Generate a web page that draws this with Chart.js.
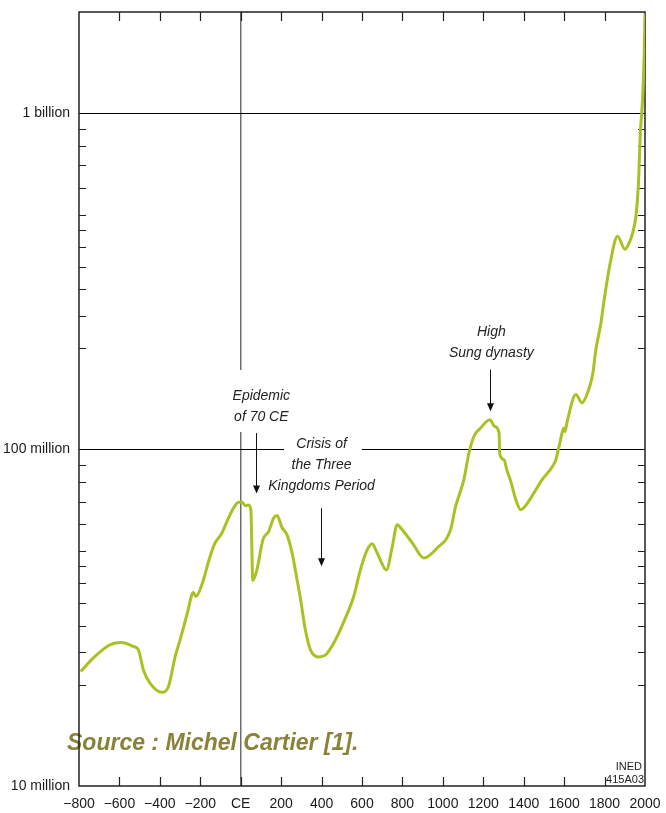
<!DOCTYPE html>
<html>
<head>
<meta charset="utf-8">
<script src="https://cdn.jsdelivr.net/npm/chart.js@4/dist/chart.umd.min.js"></script>
<style>
  html, body { margin: 0; padding: 0; background: #fff; }
  canvas { display: block; }
</style>
</head>
<body>
<canvas id="popChart" width="666" height="813"></canvas>
<script>
// population of China (years, millions)
var years = [-792, -730, -646, -588, -531, -506, -481, -448, -390, -357, -324, -300, -258, -245, -234, -222,
  -192, -159, -131, -93, -68, -35, -10, 7, 23, 39, 50, 60, 80, 110, 138, 163, 180, 204, 229, 254, 279, 295,
  320, 345, 384, 419, 469, 518, 559, 592, 626, 650, 675, 721, 750, 774, 799, 849, 906, 972, 1038, 1063,
  1084, 1104, 1129, 1154, 1187, 1232, 1256, 1278, 1281, 1303, 1316, 1336, 1361, 1385, 1419, 1460, 1485,
  1543, 1559, 1575, 1600, 1604, 1617, 1658, 1688, 1716, 1741, 1757, 1782, 1798, 1828, 1864, 1901, 1922,
  1939, 1955, 1967, 1977, 1988, 1996, 2000];
var populationMillions = [21.9, 24.0, 26.3, 26.7, 26.0, 25.4, 22.1, 20.2, 19.0, 19.8, 24.3, 27.2, 33.8, 36.6, 37.6, 36.6,
  39.7, 46.5, 52.2, 56.5, 61.2, 67.1, 69.7, 69.7, 68.1, 68.5, 66.3, 40.8, 43.9, 54.0, 57.1, 62.6, 63.7, 58.7, 55.8, 49.3, 41.0, 36.2,
  29.1, 25.4, 24.2, 24.5, 27.2, 31.6, 36.6, 43.9, 50.4, 52.5, 49.3, 43.9, 51.6, 59.8, 57.8, 52.8, 47.6, 51.0, 57.8, 67.8,
  74.3, 81.4, 97.7, 109.6, 116, 122.8, 117.3, 112.1, 97.3, 93.3, 87.2, 80.5, 71, 66.3, 69.4, 76, 80.5,
  89.2, 93.3, 102.3, 116, 113, 122.8, 145.8, 137.7, 147.5, 167.2, 198.4, 238, 279, 359, 431, 394, 412,
  441, 494, 607, 875, 1100, 1500, 1980];

var yLabelValues = [1e7, 1e8, 1e9];
var yLabelTexts = ['10 million', '100 million', '1 billion'];
var yMinorMultipliers = [2, 2.5, 3, 3.5, 4, 4.5, 5, 6, 7, 8, 9];

// annotations: first text line centre (year, value in millions) and arrows (year, from, to in millions)
var notes = [
  { year: 102, value: 144, lines: ['Epidemic', 'of 70 CE'] },
  { year: 400, value: 104, lines: ['Crisis of', 'the Three', 'Kingdoms Period'] },
  { year: 1240, value: 223, lines: ['High', 'Sung dynasty'] }
];
var arrows = [
  { year: 75, from: 112, to: 74 },
  { year: 399, from: 67, to: 45 },
  { year: 1233, from: 173, to: 130 }
];

var points = years.map(function (y, i) { return { x: y, y: populationMillions[i] * 1e6 }; });

var LINE = '#a8c224';
var AXIS = '#222';

var decorPlugin = {
  id: 'decor',
  beforeDatasetsDraw: function (chart) {
    var ctx = chart.ctx, a = chart.chartArea;
    var xs = chart.scales.x, ys = chart.scales.y;
    ctx.save();

    // source line
    ctx.fillStyle = '#8a8238';
    ctx.font = 'italic bold 23px "Liberation Sans", Arial, sans-serif';
    ctx.textAlign = 'left';
    ctx.textBaseline = 'middle';
    ctx.fillText('Source : Michel Cartier [1].', 67, 744);

    // frame
    ctx.strokeStyle = AXIS;
    ctx.lineWidth = 1.5;
    ctx.strokeRect(a.left, a.top, a.right - a.left, a.bottom - a.top);

    // inward minor ticks on the y sides
    ctx.lineWidth = 1.2;
    [1e7, 1e8].forEach(function (dec) {
      yMinorMultipliers.forEach(function (m) {
        var py = Math.round(ys.getPixelForValue(dec * m)) + 0.5;
        ctx.beginPath();
        ctx.moveTo(a.left, py); ctx.lineTo(a.left + 7, py);
        ctx.moveTo(a.right, py); ctx.lineTo(a.right - 7, py);
        ctx.stroke();
      });
    });
    // inward ticks on top and bottom
    for (var yr = -600; yr <= 1800; yr += 200) {
      var px = Math.round(xs.getPixelForValue(yr)) + 0.5;
      ctx.beginPath();
      ctx.moveTo(px, a.top); ctx.lineTo(px, a.top + 9);
      ctx.moveTo(px, a.bottom); ctx.lineTo(px, a.bottom - 9);
      ctx.stroke();
    }

    // white boxes that cut the lines behind the notes
    ctx.fillStyle = '#fff';
    ctx.fillRect(226, 370, 70, 62);
    ctx.fillRect(284, 434, 78, 22);

    // note texts
    ctx.fillStyle = '#222';
    ctx.font = 'italic 14px "Liberation Sans", Arial, sans-serif';
    ctx.textAlign = 'center';
    notes.forEach(function (n) {
      var cx = xs.getPixelForValue(n.year);
      var cy = ys.getPixelForValue(n.value * 1e6);
      n.lines.forEach(function (t, i) { ctx.fillText(t, cx, cy + i * 21); });
    });

    // arrows
    ctx.strokeStyle = '#111';
    ctx.fillStyle = '#111';
    ctx.lineWidth = 1;
    arrows.forEach(function (ar) {
      var px = Math.round(xs.getPixelForValue(ar.year)) + 0.5;
      var y0 = ys.getPixelForValue(ar.from * 1e6);
      var y1 = ys.getPixelForValue(ar.to * 1e6);
      ctx.beginPath();
      ctx.moveTo(px, y0); ctx.lineTo(px, y1 - 6);
      ctx.stroke();
      ctx.beginPath();
      ctx.moveTo(px - 3.5, y1 - 8); ctx.lineTo(px + 3.5, y1 - 8); ctx.lineTo(px, y1);
      ctx.closePath();
      ctx.fill();
    });

    // INED code
    ctx.font = '11px "Liberation Sans", Arial, sans-serif';
    ctx.textAlign = 'right';
    ctx.fillStyle = '#222';
    ctx.fillText('INED', a.right - 3, 767);
    ctx.fillText('415A03', a.right - 1, 780);

    ctx.restore();
  }
};

var ctx = document.getElementById('popChart').getContext('2d');
var popChart = new Chart(ctx, {
  type: 'line',
  data: {
    datasets: [{
      data: points,
      borderColor: LINE,
      borderWidth: 3,
      pointRadius: 0,
      fill: false,
      cubicInterpolationMode: 'monotone'
    }]
  },
  options: {
    responsive: false,
    animation: false,
    devicePixelRatio: 1,
    layout: { padding: { top: 12, right: 21, left: 0, bottom: 0 } },
    plugins: {
      legend: { display: false },
      tooltip: { enabled: false }
    },
    scales: {
      x: {
        type: 'linear',
        min: -800,
        max: 2000,
        afterFit: function (s) { s.height = 27; s.paddingLeft = 0; s.paddingRight = 0; },
        ticks: {
          stepSize: 200,
          autoSkip: false,
          maxRotation: 0,
          padding: 10,
          color: '#1a1a1a',
          font: { family: '"Liberation Sans", Arial, sans-serif', size: 14 },
          callback: function (v) { return v === 0 ? 'CE' : (v < 0 ? '\u2212' + (-v) : String(v)); }
        },
        grid: {
          drawTicks: false,
          lineWidth: 1.5,
          color: function (c) { return c.tick && c.tick.value === 0 ? '#6e6e6e' : 'rgba(0,0,0,0)'; }
        },
        border: { display: false }
      },
      y: {
        type: 'logarithmic',
        min: 1e7,
        max: 2e9,
        afterFit: function (s) { s.width = 79; s.paddingTop = 0; s.paddingBottom = 0; },
        afterBuildTicks: function (s) { s.ticks = yLabelValues.map(function (v) { return { value: v }; }); },
        ticks: {
          padding: 9,
          color: '#1a1a1a',
          font: { family: '"Liberation Sans", Arial, sans-serif', size: 14 },
          callback: function (v) { var i = yLabelValues.indexOf(v); return i >= 0 ? yLabelTexts[i] : ''; }
        },
        grid: {
          drawTicks: false,
          lineWidth: 1,
          color: function (c) { return c.tick && c.tick.value > 1e7 ? '#000' : 'rgba(0,0,0,0)'; }
        },
        border: { display: false }
      }
    }
  },
  plugins: [decorPlugin]
});
</script>
</body>
</html>
